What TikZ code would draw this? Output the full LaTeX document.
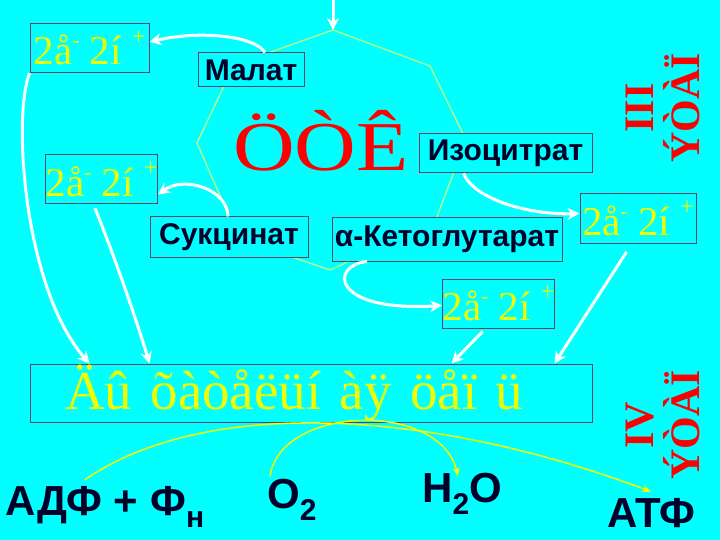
\documentclass[tikz,border=0pt]{standalone}
\usepackage{fontspec}
\setmainfont{Liberation Serif}
\setsansfont{Liberation Sans}
\usetikzlibrary{arrows.meta}

\definecolor{bgcyan}{RGB}{0,255,255}
\definecolor{hexline}{RGB}{175,255,140}
\definecolor{pairyellow}{RGB}{240,255,0}
\definecolor{labelink}{RGB}{0,0,40}
\definecolor{boxedge}{RGB}{95,65,100}

\newcommand{\pairtext}{2å\raisebox{0.42em}{\fontsize{22}{22}\selectfont -} 2í \raisebox{0.5em}{\fontsize{24}{24}\selectfont +}}
\newcommand{\lowsub}[1]{\raisebox{-0.3em}{\fontsize{30}{30}\selectfont #1}}

\begin{document}
\begin{tikzpicture}[x=1pt,y=-1pt,
    pairbox/.style={draw=boxedge, line width=1pt, fill=bgcyan, text=pairyellow,
        font=\fontsize{41}{44}\selectfont, minimum height=49pt, inner sep=0pt},
    acidbox/.style={draw=boxedge, line width=1pt, fill=bgcyan, text=labelink,
        font=\sffamily\bfseries\fontsize{30}{32}\selectfont, inner sep=0pt},
    bigarrow/.style={white, line width=3pt, -{Stealth[length=12pt,width=12pt]}},
    thinarrow/.style={pairyellow, line width=1.5pt, -{Stealth[length=9pt,width=7pt]}},
    outside/.style={text=labelink, font=\sffamily\bfseries\fontsize{42}{44}\selectfont, inner sep=0pt},
    stage/.style={text=red, rotate=90, align=center, font=\bfseries\fontsize{42}{46}\selectfont}]
    % the background
    \fill[bgcyan] (0,0) rectangle (720,540);
    \useasboundingbox (0,0) rectangle (720,540);

    % the cycle
    \coordinate (h1) at (333,30);
    \coordinate (h2) at (430,66);
    \coordinate (h3) at (466,140);
    \coordinate (h4) at (435,222);
    \coordinate (h5) at (330,270);
    \coordinate (h6) at (239,239);
    \coordinate (h7) at (197,143);
    \coordinate (h8) at (234,65);
    \draw[hexline, line width=1.4pt] (h1) -- (h2) -- (h3) -- (h4) -- (h5) -- (h6) -- (h7) -- (h8) -- cycle;

    \node[text=red, font=\fontsize{70}{74}\selectfont, xscale=1.22, anchor=base] (tca) at (321,171) {ÖÒÊ};

    % the acids
    \node[acidbox, minimum width=106pt, minimum height=34pt] (malat) at (251,70) {Малат};
    \node[acidbox, minimum width=173pt, minimum height=39pt] (izo) at (505.5,153.5) {Изоцитрат};
    \node[acidbox, minimum width=158pt, minimum height=40pt] (succ) at (229,237) {Сукцинат};
    \node[acidbox, minimum width=230pt, minimum height=43pt] (keto) at (447,239.5) {α-Кетоглутарат};

    % the pairs of electrons and protons
    \node[pairbox, minimum width=119pt] (pair1) at (89.5,48) {\pairtext};
    \node[pairbox, minimum width=109pt] (pair2) at (101.5,179.5) {\pairtext};
    \node[pairbox, minimum width=116pt] (pair3) at (638,218.5) {\pairtext};
    \node[pairbox, minimum width=111pt] (pair4) at (498.5,303.5) {\pairtext};

    % the chain
    \node[draw=boxedge, line width=1pt, text=pairyellow, font=\fontsize{55}{58}\selectfont,
        minimum width=562pt, minimum height=58pt, inner sep=0pt, text width=492pt, align=left]
        (chain) at (311,393) {Äû õàòåëüí àÿ öåï ü};

    % the stages
    \node[stage] (stage3) at (663,108) {III\\ÝÒÀÏ};
    \node[stage] (stage4) at (663,425) {IV\\ÝÒÀÏ};

    % the substances
    \node[outside, anchor=base west] (adp) at (5,515) {АДФ + Ф\lowsub{н}};
    \node[outside, anchor=base west] (oxy) at (267,508) {O\lowsub{2}};
    \node[outside, anchor=base west] (water) at (422,502) {H\lowsub{2}O};
    \node[outside, anchor=base west] (atp) at (607,527) {АТФ};

    % white arrows
    \coordinate (feed) at (333,0);
    \draw[bigarrow] (feed) -- (h1);
    \draw[bigarrow] ([xshift=14pt]malat.north) .. controls (255,36) and (200,30) .. ([yshift=6pt]pair1.east);
    \draw[bigarrow] (pair1.south west) .. controls (12,120) and (25,290) .. ([xshift=60pt]chain.north west);
    \draw[bigarrow, shorten <=4pt] ([xshift=-8pt]pair2.south) .. controls (112,250) and (135,315) .. ([xshift=120pt]chain.north west);
    \draw[bigarrow] ([xshift=-1pt]succ.north) .. controls (228,190) and (185,175) .. ([yshift=-15pt]pair2.east);
    \draw[bigarrow] ([xshift=-42pt]izo.south) .. controls (475,200) and (530,215) .. ([yshift=5pt]pair3.west);
    \draw[bigarrow] ([xshift=-80pt]keto.south) .. controls (330,265) and (330,312) .. ([yshift=-2pt]pair4.west);
    \draw[bigarrow, shorten <=4pt] ([xshift=-13pt]pair4.south) -- ([xshift=422pt]chain.north west);
    \draw[bigarrow, shorten <=10pt] ([xshift=-6pt]pair3.south) -- ([xshift=-38pt]chain.north east);

    % yellow arrows
    \draw[thinarrow] ([xshift=80pt,yshift=6pt]adp.north west) .. controls (200,400) and (420,405) .. ([yshift=6pt]atp.north);
    \draw[thinarrow] ([xshift=3pt,yshift=2pt]oxy.north west) .. controls (280,405) and (440,400) .. ([xshift=-4pt,yshift=-4pt]water.north);
\end{tikzpicture}
\end{document}
